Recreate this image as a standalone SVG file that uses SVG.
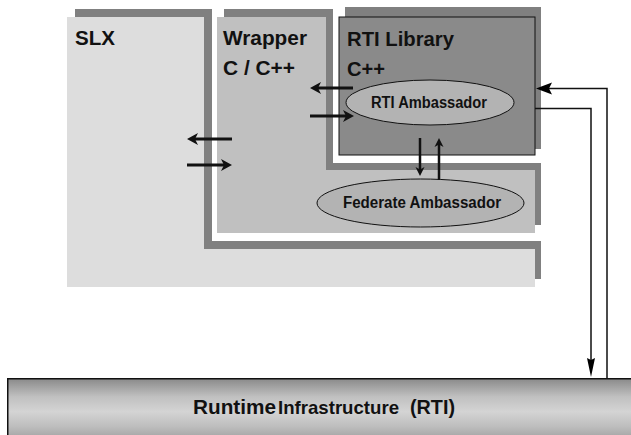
<svg xmlns="http://www.w3.org/2000/svg" width="631" height="435" viewBox="0 0 631 435">
<style>
.shadow{fill:#808080}
.t{font-family:"Liberation Sans",Arial,sans-serif;font-weight:bold;fill:#111}
.big{font-size:21px}
.mid{font-size:16px}
.thick{stroke:#111;stroke-width:3;fill:none}
.vert{stroke:#111;stroke-width:2.5;fill:none}
.thin{stroke:#111;stroke-width:1.5;fill:none}
.ell{fill:#b3b3b3;stroke:#111;stroke-width:1}
</style>
<defs>
<marker id="barb" markerUnits="userSpaceOnUse" viewBox="-1 -7 13 14" markerWidth="13" markerHeight="14" refX="4" refY="0" orient="auto">
<path d="M0,-6 L11,0 L0,6 L3,0 z" fill="#111"/>
</marker>
<marker id="barbS" markerUnits="userSpaceOnUse" viewBox="-1 -6 11 12" markerWidth="11" markerHeight="12" refX="3" refY="0" orient="auto">
<path d="M0,-4.5 L9,0 L0,4.5 L2.5,0 z" fill="#111"/>
</marker>
<marker id="triLong" markerUnits="userSpaceOnUse" viewBox="-1 -5 21 10" markerWidth="21" markerHeight="10" refX="8" refY="0" orient="auto">
<path d="M0,-4 L19,0 L0,4 L2,0 z" fill="#000"/>
</marker>
<marker id="triShort" markerUnits="userSpaceOnUse" viewBox="-1 -7 17 14" markerWidth="17" markerHeight="14" refX="6" refY="0" orient="auto">
<path d="M0,-6 L16,0 L0,6 L3,0 z" fill="#000"/>
</marker>
<linearGradient id="barGrad" x1="0" y1="0" x2="0" y2="1">
<stop offset="0" stop-color="#8a8a8a"/>
<stop offset="0.3" stop-color="#c0c0c0"/>
<stop offset="0.55" stop-color="#d4d4d4"/>
<stop offset="0.8" stop-color="#bdbdbd"/>
<stop offset="1" stop-color="#a2a2a2"/>
</linearGradient>
</defs>

<g id="slx">
<polygon class="shadow" points="75,9 212,9 212,241 541,241 541,279 75,279"/>
<polygon fill="#dddddd" points="67,17 204,17 204,249 535,249 535,287 67,287"/>
<text class="t big" x="75" y="45" textLength="40" lengthAdjust="spacingAndGlyphs">SLX</text>
</g>

<g id="wrapper">
<polygon class="shadow" points="224,9 333,9 333,163 541,163 541,225 224,225"/>
<polygon fill="#c0c0c0" points="217,17 326,17 326,170 535,170 535,233 217,233"/>
<text class="t big" x="223" y="45" textLength="84" lengthAdjust="spacingAndGlyphs">Wrapper</text>
<text class="t big" x="223" y="75" textLength="72" lengthAdjust="spacingAndGlyphs">C / C++</text>
</g>

<g id="rti-library">
<rect class="shadow" x="345" y="7" width="196" height="142"/>
<rect x="339" y="17" width="196" height="138" fill="#8a8a8a" stroke="#111" stroke-width="1"/>
<text class="t big" x="347" y="46" textLength="107" lengthAdjust="spacingAndGlyphs">RTI Library</text>
<text class="t big" x="347" y="76" textLength="38" lengthAdjust="spacingAndGlyphs">C++</text>
</g>

<g id="rti-ambassador">
<ellipse class="ell" cx="430" cy="102.5" rx="84" ry="22.5"/>
<text class="t mid" x="371" y="107.5" textLength="116" lengthAdjust="spacingAndGlyphs">RTI Ambassador</text>
</g>

<g id="federate-ambassador">
<ellipse class="ell" cx="420.5" cy="203" rx="103.5" ry="24"/>
<text class="t mid" x="343" y="207.5" textLength="158" lengthAdjust="spacingAndGlyphs">Federate Ambassador</text>
</g>

<g id="rti">
<rect x="7.75" y="378.75" width="630" height="60" fill="url(#barGrad)" stroke="#111" stroke-width="1.5"/>
<text class="t" y="414"><tspan x="193" style="font-size:20.8px" textLength="83" lengthAdjust="spacingAndGlyphs">Runtime</tspan><tspan x="278" style="font-size:19px" textLength="121" lengthAdjust="spacingAndGlyphs">Infrastructure</tspan><tspan x="410" style="font-size:20px" textLength="45" lengthAdjust="spacingAndGlyphs">(RTI)</tspan></text>
</g>

<g id="connectors">
<line class="thick" x1="232" y1="139" x2="194" y2="139" marker-end="url(#barb)"/>
<line class="thick" x1="187" y1="165" x2="225" y2="165" marker-end="url(#barb)"/>
<line class="thick" x1="353" y1="88" x2="317" y2="88" marker-end="url(#barb)"/>
<line class="thick" x1="310" y1="116" x2="347" y2="116" marker-end="url(#barb)"/>
<line class="vert" x1="420" y1="138" x2="420" y2="170" marker-end="url(#barbS)"/>
<line class="vert" x1="439" y1="180" x2="439" y2="144" marker-end="url(#barbS)"/>
<path class="thin" d="M535,108.5 H591 V366" marker-end="url(#triLong)"/>
<path class="thin" d="M607,378 V88.5 H546" marker-end="url(#triShort)"/>
</g>
</svg>
